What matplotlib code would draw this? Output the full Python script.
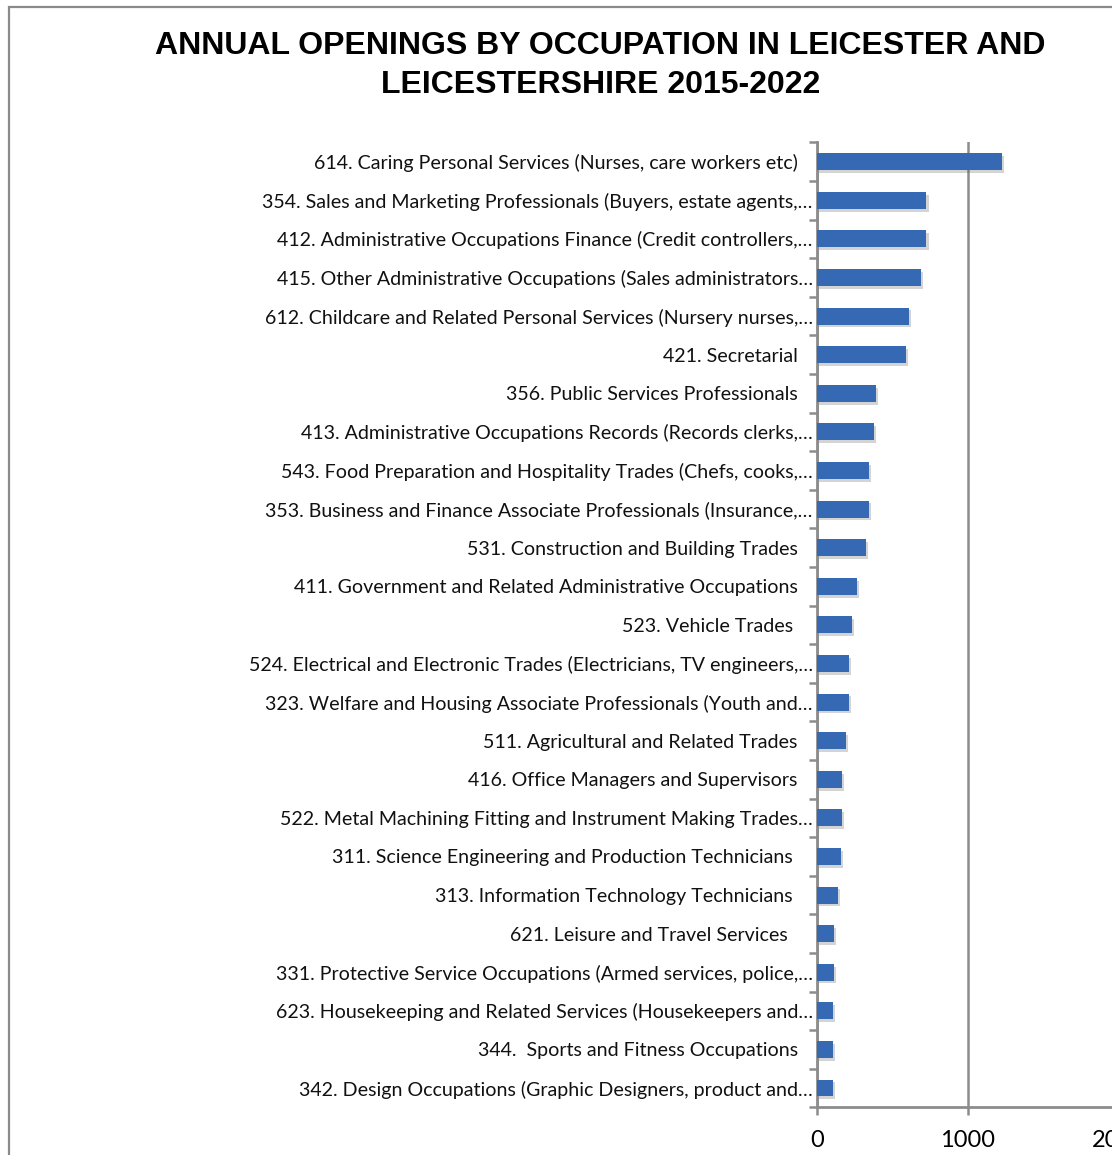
import matplotlib
matplotlib.use('Agg')
import matplotlib.pyplot as plt
import matplotlib.patheffects as pe
from matplotlib.patches import Rectangle
import numpy as np

# occupations, top to bottom (trailing spaces kept from the source sheet)
occupations = [
    '614. Caring Personal Services (Nurses, care workers etc)   ',
    '354. Sales and Marketing Professionals (Buyers, estate agents,…',
    '412. Administrative Occupations Finance (Credit controllers,…',
    '415. Other Administrative Occupations (Sales administrators…',
    '612. Childcare and Related Personal Services (Nursery nurses,…',
    '421. Secretarial   ',
    '356. Public Services Professionals   ',
    '413. Administrative Occupations Records (Records clerks,…',
    '543. Food Preparation and Hospitality Trades (Chefs, cooks,…',
    '353. Business and Finance Associate Professionals (Insurance,…',
    '531. Construction and Building Trades   ',
    '411. Government and Related Administrative Occupations   ',
    '523. Vehicle Trades    ',
    '524. Electrical and Electronic Trades (Electricians, TV engineers,…',
    '323. Welfare and Housing Associate Professionals (Youth and…',
    '511. Agricultural and Related Trades   ',
    '416. Office Managers and Supervisors   ',
    '522. Metal Machining Fitting and Instrument Making Trades…',
    '311. Science Engineering and Production Technicians    ',
    '313. Information Technology Technicians    ',
    '621. Leisure and Travel Services     ',
    '331. Protective Service Occupations (Armed services, police,…',
    '623. Housekeeping and Related Services (Housekeepers and…',
    '344.  Sports and Fitness Occupations   ',
    '342. Design Occupations (Graphic Designers, product and…',
]
openings = [1225, 725, 725, 689, 609, 591, 389, 380, 344, 344, 327, 265, 230,
            212, 212, 194, 168, 168, 159, 141, 115, 115, 106, 106, 106]
x_ticks = [0, 1000, 2000]

fig = plt.figure(figsize=(11.12, 11.55), dpi=100)

# outer chart border
fig.patches.append(Rectangle((9 / 1112, -0.05), 1.1, 1 - 7 / 1155 + 0.05,
                             transform=fig.transFigure, fill=False,
                             edgecolor='#8a8a8a', linewidth=1.6))

fig.text(0.54, 1 - 65.5 / 1155,
         'ANNUAL OPENINGS BY OCCUPATION IN LEICESTER AND\nLEICESTERSHIRE 2015-2022',
         ha='center', va='center', fontsize=23, fontweight='bold',
         family='Liberation Sans', linespacing=1.38)

ax = fig.add_axes([817 / 1112, 1 - 1107.3 / 1155, 302 / 1112, 964.9 / 1155])

y = np.arange(len(occupations))
ax.barh(y, openings, height=0.44, color='#3669b4', zorder=3,
        path_effects=[pe.SimplePatchShadow(offset=(1.5, -2), alpha=0.25,
                                           shadow_rgbFace='#555555'),
                      pe.Normal()])

ax.set_ylim(len(occupations) - 0.5, -0.5)
ax.set_xlim(0, 2000)
ax.set_xticks(x_ticks)
ax.set_xticklabels([str(t) for t in x_ticks])
ax.set_yticks(y)
ax.set_yticklabels(occupations)
ax.set_yticks(np.arange(len(occupations) + 1) - 0.5, minor=True)

ax.grid(axis='x', color='#8c8c8c', linewidth=1.8, zorder=0)
ax.grid(axis='y', visible=False)

for side in ['top', 'right']:
    ax.spines[side].set_visible(False)
for side in ['left', 'bottom']:
    ax.spines[side].set_color('#8c8c8c')
    ax.spines[side].set_linewidth(2)

ax.tick_params(axis='y', which='major', length=0, pad=3,
               labelsize=14.15, labelfontfamily='Lato', labelcolor='#111111')
ax.tick_params(axis='y', which='minor', length=6, width=1.8, color='#8c8c8c')
ax.tick_params(axis='x', length=6, width=1.8, color='#8c8c8c', pad=10,
               labelsize=17, labelfontfamily='Lato')

fig.savefig('out.png', dpi=100)
